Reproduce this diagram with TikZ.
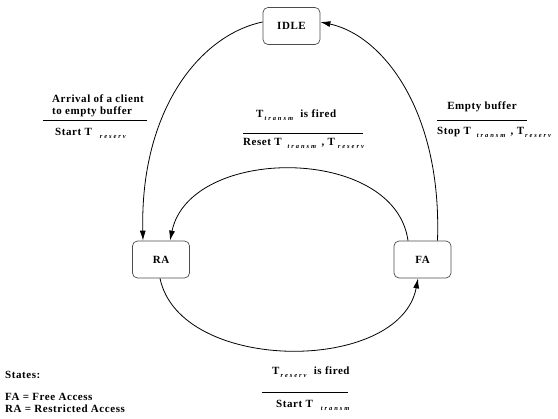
\documentclass[tikz,border=0pt]{standalone}
\usepackage{fontspec}
\setmainfont{Liberation Serif}[LetterSpace=5]
\newfontfamily\subf[LetterSpace=30]{Liberation Serif}
\usetikzlibrary{arrows.meta}
\newcommand{\sbx}[1]{\raisebox{-3pt}{\subf\fontsize{6.5}{6.5}\selectfont\bfseries\itshape #1}}
\begin{document}
\begin{tikzpicture}[x=1pt,y=-1pt,
  statebox/.style={draw=black!70,line width=0.7pt,rounded corners=5pt,minimum width=57pt,minimum height=37pt,inner sep=0pt,font=\fontsize{11}{12}\selectfont\bfseries},
  lbl/.style={inner sep=0pt,font=\fontsize{11}{12}\selectfont\bfseries,align=left},
  arr/.style={line width=0.8pt,-{Latex[length=10pt,width=6pt]}},
  sep/.style={line width=0.6pt}]
\useasboundingbox (0,0) rectangle (558,419);
\node[statebox] (idle) at (291.5,26) {IDLE};
\node[statebox] (ra) at (161,259.5) {RA};
\node[statebox] (fa) at (422.5,259.5) {FA};

\draw[arr] ([yshift=4pt]idle.west) .. controls (200,35) and (140,110) .. ([xshift=-18pt]ra.north);
\draw[arr] ([xshift=15pt]fa.north) .. controls (442,110) and (382,35) .. ([yshift=4pt]idle.east);
\draw[arr] ([xshift=-14.5pt]fa.north) .. controls (395,145) and (190,145) .. ([xshift=9pt]ra.north);
\draw[arr] ([xshift=-1pt]ra.south) .. controls (180,374) and (400,374) .. ([xshift=-4.5pt]fa.south);

% left label
\node[lbl,anchor=west] (l1) at (52,106) {Arrival of a client\\to empty buffer};
\coordinate (l1a) at (43,120); \coordinate (l1b) at (147,120);
\draw[sep] (l1a) -- (l1b);
\node[lbl,anchor=west] (l2) at (55,133) {Start T\hspace{8pt}\sbx{reserv}};

% middle label
\node[lbl,anchor=west] (m1) at (256,115) {T\hspace{1pt}\sbx{transm}\hspace{4pt} is fired};
\coordinate (m1a) at (243,133); \coordinate (m1b) at (363,133);
\draw[sep] (m1a) -- (m1b);
\node[lbl,anchor=west] (m2) at (243,143) {Reset T\hspace{6pt}\sbx{transm}\hspace{2pt} , T\hspace{3pt}\sbx{reserv}};

% right label
\node[lbl] (r1) at (482,107) {Empty buffer};
\coordinate (r1a) at (437,120); \coordinate (r1b) at (527,120);
\draw[sep] (r1a) -- (r1b);
\node[lbl,anchor=west] (r2) at (437,132) {Stop T\hspace{6pt}\sbx{transm}\hspace{2pt} , T\hspace{1pt}\sbx{reserv}};

% bottom label
\node[lbl,anchor=west] (b1) at (272,372) {T\hspace{1pt}\sbx{reserv}\hspace{4pt} is fired};
\coordinate (b1a) at (262,392); \coordinate (b1b) at (348,392);
\draw[sep] (b1a) -- (b1b);
\node[lbl,anchor=west] (b2) at (276,405) {Start T\hspace{8pt}\sbx{transm}};

% legend
\node[lbl,anchor=west] (st) at (5,375) {States:};
\node[lbl,anchor=west] (lg) at (5,403) {FA = Free Access\\RA = Restricted Access};
\end{tikzpicture}
\end{document}
